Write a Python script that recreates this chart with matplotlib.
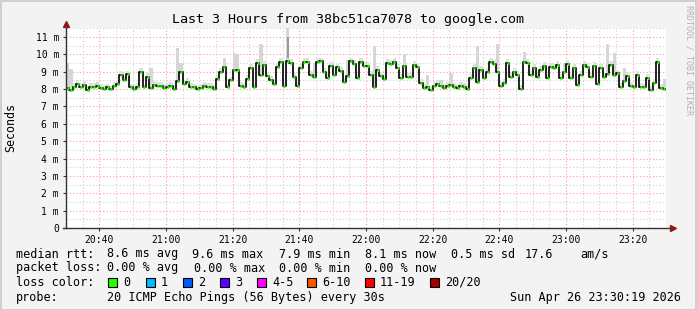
import numpy as np
import matplotlib
matplotlib.use("Agg")
import matplotlib.pyplot as plt
from matplotlib.patches import Rectangle

# median rtt in ms, one value per minute from 20:30 to 23:30
median_ms = [
    8.05, 7.96, 8.13, 8.3, 8.15, 8.25, 7.95, 8.15, 8.13, 8.2, 8.05, 8.02,
    8.1, 7.98, 8.2, 8.3, 8.8, 8.55, 8.85, 8.1, 8.0, 8.15, 9.0, 8.1,
    8.7, 8.05, 8.25, 8.2, 8.2, 8.05, 8.15, 8.2, 8.0, 8.45, 9.0, 8.3,
    8.4, 8.15, 8.1, 8.0, 8.05, 8.2, 8.13, 8.15, 8.0, 8.6, 9.0, 9.3,
    8.1, 8.5, 9.1, 9.1, 8.2, 8.13, 8.6, 9.2, 8.15, 9.5, 8.8, 9.4,
    8.75, 8.55, 8.3, 9.25, 9.55, 8.2, 9.6, 9.5, 8.7, 8.2, 9.2, 9.55,
    9.55, 8.8, 8.7, 9.55, 9.6, 9.0, 8.65, 9.35, 8.8, 9.25, 9.05, 8.4,
    8.75, 9.6, 9.45, 8.65, 9.55, 9.35, 9.35, 8.8, 8.15, 9.1, 8.75, 8.6,
    9.5, 9.45, 9.55, 9.2, 8.65, 9.35, 8.7, 8.7, 9.4, 9.3, 8.35, 8.05,
    8.1, 7.95, 8.2, 8.3, 8.2, 8.05, 8.2, 8.25, 8.13, 8.05, 8.2, 8.15,
    8.0, 8.65, 9.2, 8.4, 9.1, 8.65, 9.0, 9.55, 9.45, 9.0, 8.2, 8.35,
    9.5, 8.7, 9.0, 8.8, 8.0, 9.55, 9.5, 8.8, 9.2, 8.7, 9.1, 9.35,
    8.65, 9.3, 9.2, 9.4, 8.65, 9.0, 9.45, 8.65, 9.2, 8.25, 8.8, 9.4,
    9.3, 8.7, 9.35, 8.3, 9.2, 8.7, 8.85, 9.4, 8.8, 8.9, 8.15, 8.45,
    8.75, 8.2, 8.1, 8.8, 8.15, 8.1, 8.65, 7.95, 8.35, 9.55, 8.05, 8.0,
]

# smoke spikes (minute index, top of ping spread in ms)
spike_idx = [0, 1, 9, 25, 33, 34, 47, 50, 51, 58, 66, 74, 84, 92, 101,
             108, 112, 115, 123, 129, 137, 149, 162, 164, 167, 179]
spike_top = [9.5, 9.15, 8.4, 9.2, 10.35, 9.5, 9.8, 10.1, 10.0, 10.6, 11.5,
             9.5, 9.7, 10.5, 10.05, 8.8, 8.5, 8.9, 10.5, 10.6, 10.15, 9.5,
             10.6, 10.1, 9.2, 8.6]
dark_idx = [66]
dark_lo = [9.8]
dark_hi = [11.0]

tick_pos = [10, 30, 50, 70, 90, 110, 130, 150, 170]
tick_labels = ["20:40", "21:00", "21:20", "21:40", "22:00",
               "22:20", "22:40", "23:00", "23:20"]

loss_labels = ["0", "1", "2", "3", "4-5", "6-10", "11-19", "20/20"]
loss_colors = ["#26ff00", "#00b8ff", "#0059ff", "#5e00ff",
               "#ff00ff", "#ff5500", "#ff0000", "#a10000"]
loss_x = [108, 146, 183, 220, 257, 307, 365, 430]

rtt_stats = ["8.6 ms avg", "9.6 ms max", "7.9 ms min", "8.1 ms now", "0.5 ms sd", "17.6", "am/s"]
rtt_x = [107, 192, 279, 365, 451, 525, 580]
loss_stats = ["0.00 % avg", "0.00 % max", "0.00 % min", "0.00 % now"]
loss_stat_x = [107, 194, 279, 365]

W, H = 697, 310
mono = "DejaVu Sans Mono"
plt.rcParams['font.family'] = mono

fig = plt.figure(figsize=(W / 100, H / 100), dpi=100, facecolor="#f3f3f3")
fig.patches.append(Rectangle((0.5 / W, 0.5 / H), 1 - 1.5 / W, 1 - 1.5 / H,
                             transform=fig.transFigure, fill=False,
                             edgecolor="#c8c8c8", lw=1.2))

ax = fig.add_axes([66 / W, (H - 228) / H, 600 / W, 200 / H])
ax.set_facecolor("white")

med = np.array(median_ms)
n = len(med)
t = np.arange(n + 1)
med_e = np.append(med, med[-1])
ymax = 11.52

# grid
for v in np.arange(0.5, ymax, 0.5):
    major = abs(v - round(v)) < 1e-6
    ax.axhline(v, color="#ff9a9a" if major else "#d0d0d0", lw=0.8,
               ls=(0, (1, 2)), zorder=0)
for m in range(5, 180, 5):
    major = m in tick_pos
    ax.axvline(m, color="#ff9a9a" if major else "#d0d0d0", lw=0.8,
               ls=(0, (1, 2)), zorder=0)

# smoke
ax.fill_between(t, med_e - 0.06, med_e + 0.22, step="post", color="#e0e0e0",
                lw=0, zorder=1)
for i, top in zip(spike_idx, spike_top):
    ax.bar(i, top - med[i] + 0.1, bottom=med[i] - 0.1, width=1, align="edge",
           color="#d6d6d6", lw=0, zorder=1)
for i, lo, hi in zip(dark_idx, dark_lo, dark_hi):
    ax.bar(i + 0.2, hi - lo, bottom=lo, width=0.6, align="edge",
           color="#9a9a9a", lw=0, zorder=1)

# median line: black steps with green dots per sample
ax.step(t, med_e, where="post", color="#111111", lw=1.3, zorder=2)
ax.hlines(med, t[:-1] + 0.2, t[1:] - 0.2, color=loss_colors[0], lw=2.0,
          zorder=3)

ax.set_xlim(0, 180)
ax.set_ylim(0, ymax)
for s in ax.spines.values():
    s.set_visible(False)

# axes with arrows
ax.plot([0, 0], [0, ymax + 0.25], color="#333333", lw=1, clip_on=False, zorder=4)
ax.plot([-1, 182], [0, 0], color="#333333", lw=1, clip_on=False, zorder=4)
ax.plot([0], [ymax + 0.25], marker="^", color="#8b1a1a", ms=5, clip_on=False, zorder=5)
ax.plot([182], [0], marker=">", color="#8b1a1a", ms=5, clip_on=False, zorder=5)

ax.set_xticks(tick_pos)
ax.set_xticklabels(tick_labels)
yt = list(range(0, 12))
ax.set_yticks(yt)
ax.set_yticklabels(["0"] + ["%d m" % v for v in yt[1:]])
ax.tick_params(axis="both", labelsize=7, length=2, width=0.8, color="#333333",
               pad=3)

fig.text(11 / W, 1 - 128 / H, "Seconds", rotation=90, ha="center",
         va="center", fontsize=8.4)

# title and side text
fig.text(0.5, 1 - 19 / H, "Last 3 Hours from 38bc51ca7078 to google.com",
         ha="center", va="center", fontsize=9.6)
fig.text(689 / W, 1 - 5 / H, "RRDTOOL / TOBI OETIKER", rotation=-90,
         ha="center", va="top", fontsize=6, color="#b0b0b0")

# legend block
fs = 8.5
def row(y, label):
    fig.text(16 / W, 1 - y / H, label, ha="left", va="center", fontsize=fs)

row(254, "median rtt:")
for s, x in zip(rtt_stats, rtt_x):
    fig.text(x / W, 1 - 254 / H, s, ha="left", va="center", fontsize=fs)
row(268, "packet loss:")
for s, x in zip(loss_stats, loss_stat_x):
    fig.text(x / W, 1 - 268 / H, s, ha="left", va="center", fontsize=fs)
row(282, "loss color:")
for lab, col, x in zip(loss_labels, loss_colors, loss_x):
    fig.patches.append(Rectangle((x / W, 1 - 287 / H), 9 / W, 9 / H,
                                 transform=fig.transFigure, facecolor=col,
                                 edgecolor="black", lw=0.8))
    fig.text((x + 15) / W, 1 - 282 / H, lab, ha="left", va="center", fontsize=fs)
row(297, "probe:")
fig.text(107 / W, 1 - 297 / H, "20 ICMP Echo Pings (56 Bytes) every 30s",
         ha="left", va="center", fontsize=fs)
fig.text(681 / W, 1 - 297 / H, "Sun Apr 26 23:30:19 2026",
         ha="right", va="center", fontsize=fs)

fig.savefig("out.png", dpi=100, facecolor=fig.get_facecolor())
